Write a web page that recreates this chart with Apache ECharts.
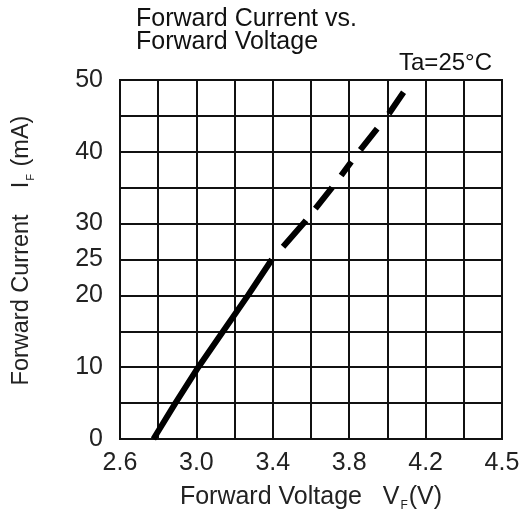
<!DOCTYPE html>
<html>
<head>
<meta charset="utf-8">
<script src="https://cdn.jsdelivr.net/npm/echarts@6/dist/echarts.min.js"></script>
<style>html,body{margin:0;padding:0;background:#fff;}#c{width:525px;height:516px;}</style>
</head>
<body>
<div id="c"></div>
<script>
// Data
var solidV = [2.775, 2.89, 3.01, 3.14, 3.27, 3.395];
var solidI = [0, 5, 10, 15, 20, 25];
var dashV = [3.395, 3.56, 3.71, 3.85, 4.0, 4.09];
var dashI = [25, 30, 35, 40, 45, 48.5];
var xTickLabels = ['2.6', '', '3.0', '', '3.4', '', '3.8', '', '4.2', '', '4.5'];
var yTickLabels = ['0', '', '10', '', '20', '25', '30', '', '40', '', '50'];

function zip(a, b) { return a.map(function (v, i) { return [v, b[i]]; }); }

var FONT = 'Liberation Sans, Arial, sans-serif';
var chart = echarts.init(document.getElementById('c'), null, {renderer: 'canvas'});
chart.setOption({
  backgroundColor: '#fff',
  animation: false,
  title: {
    text: 'Forward Current vs.\nForward Voltage',
    left: 131, top: 3,
    textStyle: {fontFamily: FONT, fontSize: 25, fontWeight: 'normal', color: '#111', lineHeight: 23}
  },
  graphic: [{
    type: 'text', right: 33, top: 51,
    style: {text: 'Ta=25°C', font: '24px ' + FONT, fill: '#111'}
  }],
  grid: {left: 120, right: 23, top: 80, bottom: 77, show: true, borderColor: '#111', borderWidth: 2,
         containLabel: false, outerBoundsMode: 'none'},
  xAxis: {
    type: 'value', min: 2.6, max: 4.6, interval: 0.2,
    axisLine: {show: true, lineStyle: {color: '#111', width: 2}},
    axisTick: {show: false},
    splitLine: {show: true, lineStyle: {color: '#111', width: 2}},
    axisLabel: {
      margin: 12, color: '#222', fontFamily: FONT, fontSize: 25,
      formatter: function (v) { return xTickLabels[Math.round((v - 2.6) / 0.2)] || ''; }
    },
    name: '{a|Forward Voltage   V}{s|F}{a|(V)}',
    nameLocation: 'middle', nameGap: 43,
    nameTextStyle: {
      rich: {
        a: {fontFamily: FONT, fontSize: 25, color: '#222', lineHeight: 30},
        s: {fontFamily: FONT, fontSize: 12, color: '#222', verticalAlign: 'bottom', lineHeight: 30, padding: [0, 1, 0, 1]}
      }
    }
  },
  yAxis: {
    type: 'value', min: 0, max: 50, interval: 5,
    axisLine: {show: true, lineStyle: {color: '#111', width: 2}},
    axisTick: {show: false},
    splitLine: {show: true, lineStyle: {color: '#111', width: 2}},
    axisLabel: {
      margin: 17, color: '#222', fontFamily: FONT, fontSize: 25,
      formatter: function (v) { return yTickLabels[Math.round(v / 5)] || ''; }
    },
    name: '{a|Forward Current    I}{s|F}{a| (mA)}',
    nameLocation: 'middle', nameGap: 84, nameRotate: 90,
    nameTextStyle: {
      padding: [0, 0, 0, 18],
      rich: {
        a: {fontFamily: FONT, fontSize: 23.5, color: '#222', lineHeight: 28},
        s: {fontFamily: FONT, fontSize: 11, color: '#222', verticalAlign: 'bottom', lineHeight: 28, padding: [0, 1, 0, 1]}
      }
    }
  },
  series: [{
    type: 'line', data: zip(solidV, solidI), showSymbol: false, silent: true,
    lineStyle: {color: '#000', width: 6}
  }, {
    type: 'line', data: zip(dashV, dashI), showSymbol: false, silent: true,
    lineStyle: {color: '#000', width: 6, cap: 'butt', type: [0, 17, 35, 15, 27, 15, 17, 15, 27, 19, 26, 100]}
  }]
});
</script>
</body>
</html>
